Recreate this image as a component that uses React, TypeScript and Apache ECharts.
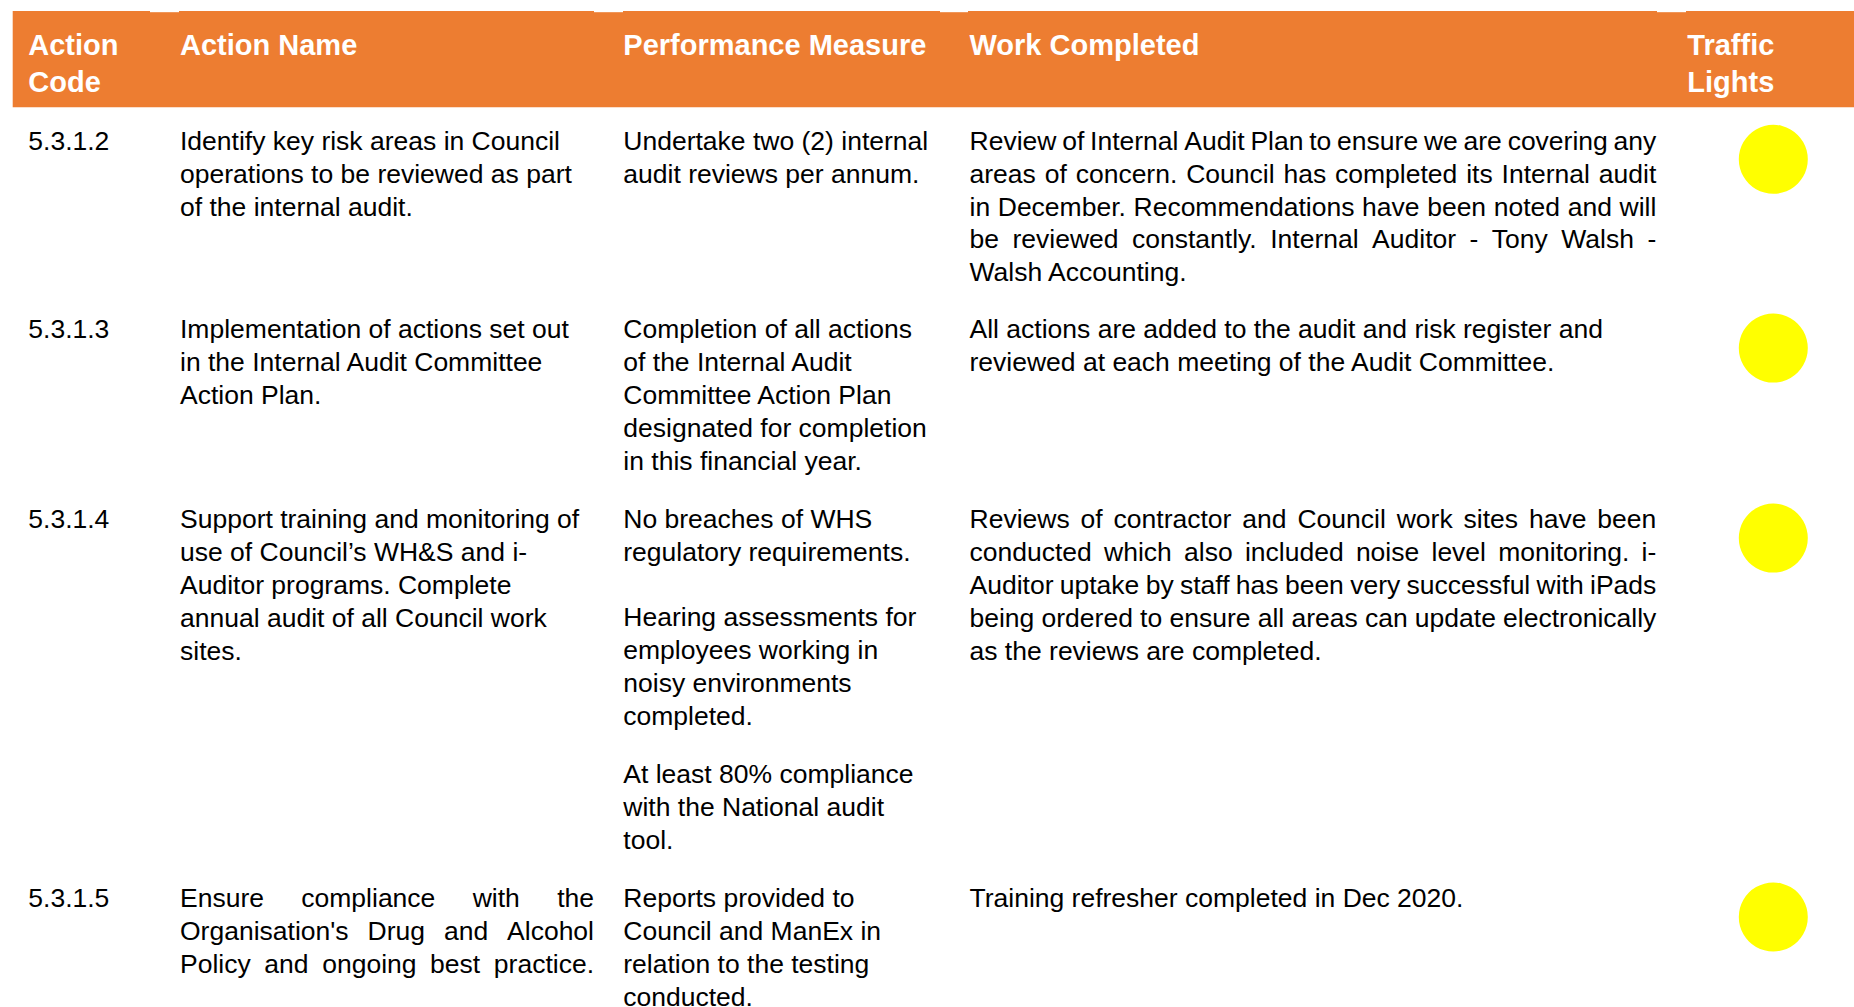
import React, { useEffect, useRef } from "react";
import * as echarts from "echarts";

// ---------- data ----------
const headers: string[][] = [
  ["Action", "Code"],
  ["Action Name"],
  ["Performance Measure"],
  ["Work Completed"],
  ["Traffic", "Lights"],
];

const actionCodes: string[] = ["5.3.1.2", "5.3.1.3", "5.3.1.4", "5.3.1.5"];

const actionNames: string[][] = [
  ["Identify key risk areas in Council", "operations to be reviewed as part", "of the internal audit."],
  ["Implementation of actions set out", "in the Internal Audit Committee", "Action Plan."],
  [
    "Support training and monitoring of",
    "use of Council\u2019s WH&S and i-",
    "Auditor programs. Complete",
    "annual audit of all Council work",
    "sites.",
  ],
  ["Ensure compliance with the", "Organisation's Drug and Alcohol", "Policy and ongoing best practice."],
];
const nameJustify: string[] = ["none", "none", "none", "all"];

const performanceMeasures: string[][][] = [
  [["Undertake two (2) internal", "audit reviews per annum."]],
  [["Completion of all actions", "of the Internal Audit", "Committee Action Plan", "designated for completion", "in this financial year."]],
  [
    ["No breaches of WHS", "regulatory requirements."],
    ["Hearing assessments for", "employees working in", "noisy environments", "completed."],
    ["At least 80% compliance", "with the National audit", "tool."],
  ],
  [["Reports provided to", "Council and ManEx in", "relation to the testing", "conducted."]],
];

const workCompleted: string[][] = [
  [
    "Review of Internal Audit Plan to ensure we are covering any",
    "areas of concern. Council has completed its Internal audit",
    "in December. Recommendations have been noted and will",
    "be reviewed constantly. Internal Auditor - Tony Walsh -",
    "Walsh Accounting.",
  ],
  ["All actions are added to the audit and risk register and", "reviewed at each meeting of the Audit Committee."],
  [
    "Reviews of contractor and Council work sites have been",
    "conducted which also included noise level monitoring. i-",
    "Auditor uptake by staff has been very successful with iPads",
    "being ordered to ensure all areas can update electronically",
    "as the reviews are completed.",
  ],
  ["Training refresher completed in Dec 2020."],
];
const workJustify: string[] = ["allButLast", "none", "allButLast", "none"];

const trafficLights: string[] = ["#FFFF00", "#FFFF00", "#FFFF00", "#FFFF00"];

// ---------- layout ----------
const W = 1854;
const H = 1007;
const FONT = '"Liberation Sans", Arial, Helvetica, sans-serif';
const BODY_FS = 26.5;
const HEAD_FS = 29;
const LINE = 32.95;
const HEAD_BASE = [55, 91.7];
const CENTRAL = 0.3465;
const colX = [28.3, 180, 623.3, 969.5, 1687.3];
const nameRight = 594;
const workRight = 1656.3;
const headerTop = 11;
const headerBottom = 107.3;
const headerLeft = 12.7;
const notches: number[][] = [
  [150, 179],
  [594, 623],
  [940, 968],
  [1657, 1686],
];
const rowBase = [149.8, 338.6, 528.6, 907.5];
const paraOffsets: number[][] = [[0], [0], [0, 97.7, 254.2], [0]];
const circleX = 1773.3;
const circleR = 34.5;
const circleDy = 9.5;
const ORANGE = "#ED7D31";

function buildElements(): any[] {
  const canvas = document.createElement("canvas");
  const ctx = canvas.getContext("2d")!;
  const measure = (s: string, fs: number, bold: boolean) => {
    ctx.font = `${bold ? "bold " : ""}${fs}px ${FONT}`;
    return ctx.measureText(s).width;
  };

  const els: any[] = [];
  const textEl = (text: string, x: number, baseline: number, fs: number, bold: boolean, fill: string) => ({
    type: "text",
    silent: true,
    x,
    y: baseline - CENTRAL * fs,
    style: {
      text,
      fontSize: fs,
      fontFamily: FONT,
      fontWeight: bold ? "bold" : "normal",
      fill,
      textAlign: "left",
      textVerticalAlign: "middle",
      align: "left",
      verticalAlign: "middle",
    },
  });

  const line = (text: string, x: number, baseline: number, right: number | null) => {
    if (right == null) {
      els.push(textEl(text, x, baseline, BODY_FS, false, "#000"));
      return;
    }
    const words = text.split(" ");
    if (words.length < 2) {
      els.push(textEl(text, x, baseline, BODY_FS, false, "#000"));
      return;
    }
    const widths = words.map((w) => measure(w, BODY_FS, false));
    const total = widths.reduce((a, b) => a + b, 0);
    const gap = (right - x - total) / (words.length - 1);
    let cx = x;
    words.forEach((w, i) => {
      els.push(textEl(w, cx, baseline, BODY_FS, false, "#000"));
      cx += widths[i] + gap;
    });
  };

  const paragraph = (lines: string[], x: number, base: number, mode: string, right: number) => {
    lines.forEach((t, i) => {
      const isLast = i === lines.length - 1;
      const j = mode === "all" || (mode === "allButLast" && !isLast);
      line(t, x, base + i * LINE, j ? right : null);
    });
  };

  // header band
  els.push({
    type: "rect",
    silent: true,
    shape: { x: headerLeft, y: headerTop, width: W - headerLeft, height: headerBottom - headerTop },
    style: { fill: ORANGE },
  });
  notches.forEach(([a, b]) => {
    els.push({
      type: "rect",
      silent: true,
      shape: { x: a, y: headerTop, width: b - a, height: 1.2 },
      style: { fill: "#FFFFFF" },
    });
  });
  headers.forEach((h, c) => {
    h.forEach((t, i) => {
      els.push(textEl(t, colX[c], HEAD_BASE[i], HEAD_FS, true, "#FFFFFF"));
    });
  });

  // rows
  actionCodes.forEach((code, r) => {
    const base = rowBase[r];
    line(code, colX[0], base, null);
    paragraph(actionNames[r], colX[1], base, nameJustify[r], nameRight);
    performanceMeasures[r].forEach((para, p) => {
      paragraph(para, colX[2], base + paraOffsets[r][p], "none", 0);
    });
    paragraph(workCompleted[r], colX[3], base, workJustify[r], workRight);
    els.push({
      type: "circle",
      silent: true,
      shape: { cx: circleX, cy: base + circleDy, r: circleR },
      style: { fill: trafficLights[r] },
    });
  });

  return els;
}

export default function App() {
  const ref = useRef<HTMLDivElement>(null);
  useEffect(() => {
    if (!ref.current) return;
    const chart = echarts.init(ref.current, undefined, { renderer: "svg", width: W, height: H });
    chart.setOption({
      animation: false,
      backgroundColor: "#FFFFFF",
      graphic: { elements: buildElements() },
    });
    return () => chart.dispose();
  }, []);
  return (
    <div
      ref={ref}
      style={{ position: "fixed", left: 0, top: 0, width: W, height: H, background: "#FFFFFF" }}
    />
  );
}
